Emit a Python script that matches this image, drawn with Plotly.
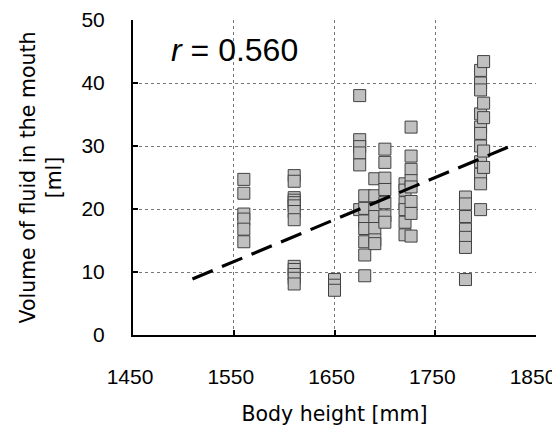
import plotly.graph_objects as go

# Data
body_height = (
    [1560] * 6 + [1610] * 13 + [1650] * 3 + [1675] * 6 + [1680] * 7 + [1690] * 7
    + [1700] * 7 + [1720] * 6 + [1726] * 8 + [1780] * 7 + [1795] * 11 + [1798] * 5
)
fluid_volume = (
    [24.7, 22.5, 19.2, 18.4, 16.8, 14.8]
    + [25.3, 24.4, 21.8, 21.4, 21.0, 20.5, 19.6, 18.3, 10.9, 10.4, 9.6, 9.0, 8.1]
    + [8.8, 7.9, 7.1]
    + [38.0, 31.0, 29.9, 28.9, 27.0, 19.9]
    + [22.1, 20.1, 18.1, 16.9, 14.8, 12.7, 9.4]
    + [24.8, 22.1, 20.1, 18.8, 16.9, 15.1, 14.5]
    + [29.5, 27.4, 24.9, 23.1, 21.0, 18.9, 17.9]
    + [24.0, 23.0, 21.0, 19.9, 17.9, 15.9]
    + [33.0, 28.4, 26.3, 24.5, 23.5, 21.2, 19.3, 15.7]
    + [21.9, 20.8, 18.8, 16.8, 15.5, 13.9, 8.8]
    + [42.0, 40.0, 38.9, 35.1, 33.0, 32.0, 30.0, 27.5, 25.5, 24.0, 19.9]
    + [43.4, 36.8, 34.5, 29.2, 26.6]
)
trend_x = [1509, 1822]
trend_y = [8.9, 29.8]

x_ticks = [1450, 1550, 1650, 1750, 1850]
y_ticks = [0, 10, 20, 30, 40, 50]
r_label = "<i>r</i> = 0.560"

fig = go.Figure()
fig.add_trace(go.Scatter(
    x=body_height, y=fluid_volume, mode="markers",
    marker=dict(symbol="square", size=12, color="#c0c0c0",
                line=dict(color="#404040", width=1)),
    showlegend=False, hoverinfo="x+y",
))
fig.add_trace(go.Scatter(
    x=trend_x, y=trend_y, mode="lines",
    line=dict(color="black", width=3.2, dash="22px,10px"),
    showlegend=False, hoverinfo="skip",
))

tick_font = dict(family="Liberation Sans, Arial, sans-serif", size=21, color="black")
title_font = dict(family="DejaVu Sans, sans-serif", size=20.5, color="black")

# the page body has an 8px margin, so the figure is offset by 8px
fig.update_layout(
    width=552, height=418,
    margin=dict(l=125, r=24, t=12, b=91),
    paper_bgcolor="white", plot_bgcolor="white",
    xaxis=dict(
        range=[1450, 1850], tickvals=x_ticks, ticktext=[str(v) for v in x_ticks],
        showline=True, linecolor="black", linewidth=2,
        ticks="inside", ticklen=5, tickwidth=1.5, tickcolor="black",
        showgrid=True, gridcolor="#777777", gridwidth=1, griddash="dot",
        zeroline=False, tickfont=tick_font, ticklabelstandoff=22,
        ticklabelshift=-3, automargin=False,
        title=dict(text="Body height [mm]", font=title_font, standoff=23),
    ),
    yaxis=dict(
        range=[0, 50], tickvals=y_ticks, ticktext=[str(v) for v in y_ticks],
        showline=True, linecolor="black", linewidth=2,
        ticks="inside", ticklen=5, tickwidth=1.5, tickcolor="black",
        showgrid=True, gridcolor="#777777", gridwidth=1, griddash="dot",
        zeroline=False, tickfont=tick_font, ticklabelstandoff=22,
        automargin=False,
        title=dict(text="Volume of fluid in the mouth<br>[ml]", font=title_font, standoff=14),
    ),
    annotations=[dict(
        text=r_label, xref="paper", yref="paper", x=0.252, y=0.905,
        xanchor="center", yanchor="middle", showarrow=False,
        font=dict(family="Liberation Sans, Arial, sans-serif", size=32, color="black"),
    )],
)

fig.write_html("out.html")
